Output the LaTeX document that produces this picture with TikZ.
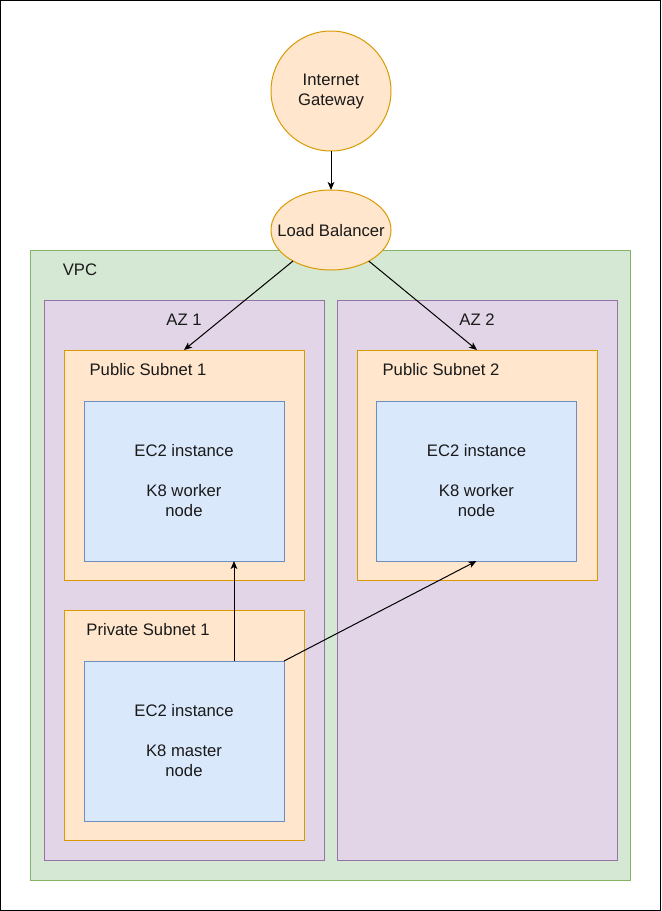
\documentclass[tikz,border=0pt]{standalone}
\usepackage{fontspec}
\setmainfont{Liberation Sans}
\usetikzlibrary{shapes.geometric,arrows.meta,calc}
\definecolor{vpcfill}{HTML}{D5E8D4}
\definecolor{vpcdraw}{HTML}{82B366}
\definecolor{azfill}{HTML}{E1D5E7}
\definecolor{azdraw}{HTML}{9673A6}
\definecolor{snfill}{HTML}{FFE6CC}
\definecolor{sndraw}{HTML}{D79B00}
\definecolor{ecfill}{HTML}{DAE8FC}
\definecolor{ecdraw}{HTML}{6C8EBF}
\definecolor{txt}{HTML}{1A1A1A}
\begin{document}
\begin{tikzpicture}[x=0.75pt,y=-0.75pt,
  every node/.style={font=\fontsize{12.5}{15}\selectfont, text=txt, inner sep=0pt, outer sep=0pt},
  box/.style={draw, rectangle, line width=0.75pt},
  vpcbox/.style={box, fill=vpcfill, draw=vpcdraw, minimum width=450pt, minimum height=472.5pt},
  azbox/.style={box, fill=azfill, draw=azdraw, minimum width=210pt, minimum height=420pt},
  snbox/.style={box, fill=snfill, draw=sndraw, minimum width=180pt, minimum height=172.5pt},
  ecbox/.style={box, fill=ecfill, draw=ecdraw, minimum width=150pt, minimum height=120pt, align=center},
  round/.style={fill=snfill, draw=sndraw, line width=0.75pt, align=center},
  conn/.style={draw=black, line width=0.75pt, -{Stealth[length=6pt,width=5pt,inset=1.5pt]}}
]
\useasboundingbox (0,0) rectangle (661,911);
\draw[black, line width=0.75pt] (0.5,0.5) rectangle (660.5,910.5);

\node[vpcbox] (vpc) at (330,565) {};
\node (vpcl) at (80,270) {VPC};

\node[azbox] (az1) at (184,580) {};
\node (az1l) at (184,320) {AZ 1};
\node[azbox] (az2) at (477.5,580) {};
\node (az2l) at (477,320) {AZ 2};

\node[snbox] (ps1) at (184,465) {};
\node (ps1l) at (148,370) {Public Subnet 1};
\node[snbox] (ps2) at (477,465) {};
\node (ps2l) at (441,370) {Public Subnet 2};
\node[snbox] (pr1) at (184,725) {};
\node (pr1l) at (148,630) {Private Subnet 1};

\node[ecbox] (w1) at (184,481) {EC2 instance\\[15pt]K8 worker\\node};
\node[ecbox] (w2) at (476.5,481) {EC2 instance\\[15pt]K8 worker\\node};
\node[ecbox] (m) at (184,741) {EC2 instance\\[15pt]K8 master\\node};

\node[round, circle, minimum size=90pt] (ig) at (331,91) {Internet\\Gateway};
\node[round, ellipse, minimum width=90pt, minimum height=60pt] (lb) at (331,230) {};
\node (lbl) at (331,231) {Load Balancer};

\draw[conn] (ig) -- (lb);
\draw[conn] (lb) -- (ps1.north);
\draw[conn] (lb) -- (ps2.north);
\draw[conn] ($(m.north west)!0.75!(m.north east)$) -- ($(w1.south west)!0.75!(w1.south east)$);
\draw[conn] (m.north east) -- (w2.south);
\end{tikzpicture}
\end{document}
